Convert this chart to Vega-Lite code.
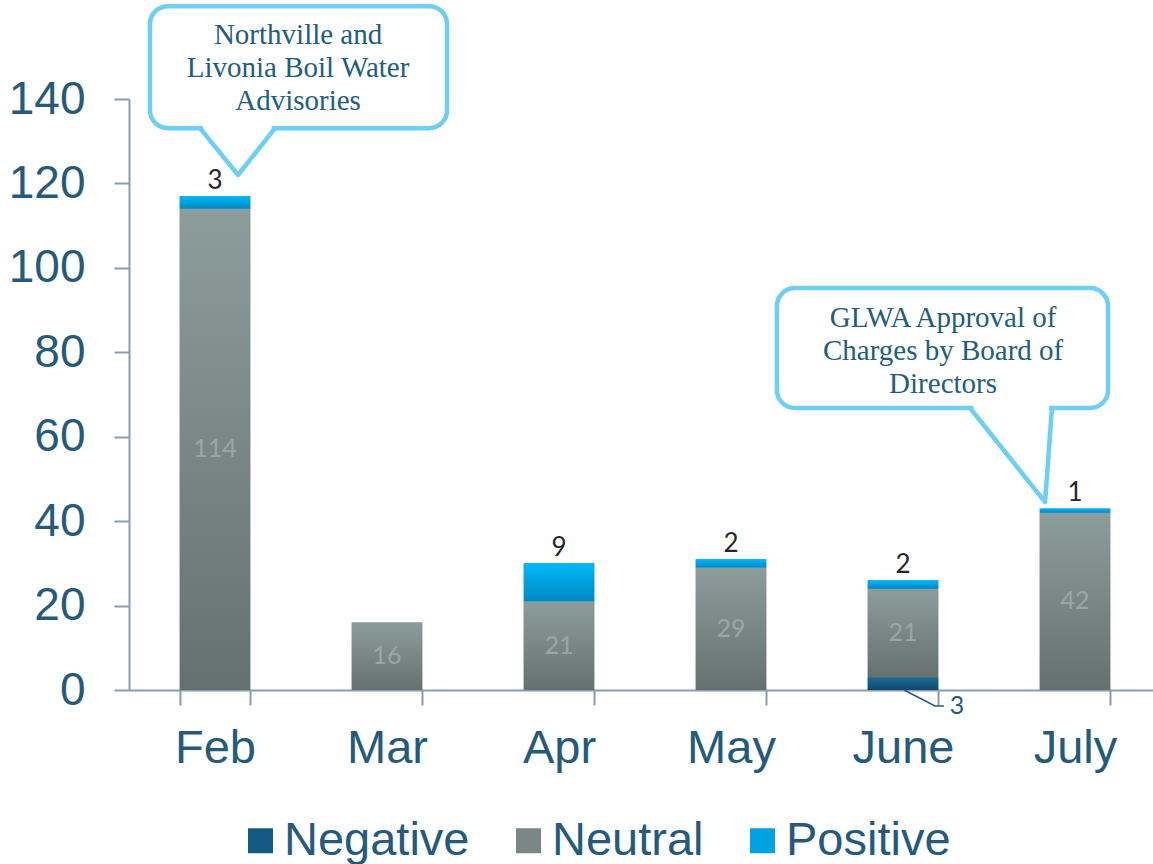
{
  "$schema": "https://vega.github.io/schema/vega-lite/v6.json",
  "width": 1032,
  "height": 591,
  "autosize": {"type": "none"},
  "padding": {"left": 129, "top": 99, "right": -8, "bottom": 174},
  "background": "white",
  "config": {"view": {"stroke": null}, "font": "Liberation Sans"},
  "datasets": {
    "counts": [
      {"month": "Feb", "sentiment": "Neutral", "count": 114},
      {"month": "Feb", "sentiment": "Positive", "count": 3},
      {"month": "Mar", "sentiment": "Neutral", "count": 16},
      {"month": "Apr", "sentiment": "Neutral", "count": 21},
      {"month": "Apr", "sentiment": "Positive", "count": 9},
      {"month": "May", "sentiment": "Neutral", "count": 29},
      {"month": "May", "sentiment": "Positive", "count": 2},
      {"month": "June", "sentiment": "Negative", "count": 3},
      {"month": "June", "sentiment": "Neutral", "count": 21},
      {"month": "June", "sentiment": "Positive", "count": 2},
      {"month": "July", "sentiment": "Neutral", "count": 42},
      {"month": "July", "sentiment": "Positive", "count": 1}
    ],
    "boxes": [
      {"id": 1, "x0": 0.122, "x1": 1.849, "y0": 133.1, "y1": 162.0},
      {"id": 2, "x0": 3.767, "x1": 5.692, "y0": 66.8, "y1": 95.2}
    ],
    "covers": [
      {"id": 1, "x": 0.43, "y": 133.1},
      {"id": 1, "x": 0.83, "y": 133.1},
      {"id": 2, "x": 4.91, "y": 66.8},
      {"id": 2, "x": 5.35, "y": 66.8}
    ],
    "pointers": [
      {"id": 1, "x": 0.413, "y": 133.1},
      {"id": 1, "x": 0.634, "y": 122.0},
      {"id": 1, "x": 0.849, "y": 133.1},
      {"id": 2, "x": 4.89, "y": 66.8},
      {"id": 2, "x": 5.326, "y": 44.5},
      {"id": 2, "x": 5.366, "y": 66.8}
    ],
    "notes": [
      {"x": 0.983, "y": 155.2, "text": "Northville and\nLivonia Boil Water\nAdvisories"},
      {"x": 4.733, "y": 88.1, "text": "GLWA Approval of\nCharges by Board of\nDirectors"}
    ],
    "leader": [
      {"x": 4.506, "y": 0},
      {"x": 4.686, "y": -3.79},
      {"x": 4.738, "y": -3.79}
    ],
    "negLabel": [
      {"x": 4.814, "y": -3.79, "text": "3"}
    ]
  },
  "layer": [
    {
      "data": {"name": "counts"},
      "transform": [
        {"stack": "count", "groupby": ["month"], "sort": [{"field": "sentiment"}], "as": ["c0", "c1"]}
      ],
      "encoding": {
        "x": {
          "field": "month", "type": "nominal",
          "sort": ["Feb", "Mar", "Apr", "May", "June", "July"],
          "scale": {"paddingInner": 0.59, "paddingOuter": 0.295},
          "axis": {
            "title": null, "labelAngle": 0, "labelFontSize": 47, "labelColor": "#245b7c",
            "labelFont": "Liberation Sans", "labelPadding": 20, "tickBand": "extent",
            "tickSize": 15, "tickWidth": 2, "tickColor": "#8b9bb0", "domainColor": "#8b9bb0",
            "domainWidth": 2
          }
        }
      },
      "layer": [
        {
          "mark": {"type": "bar"},
          "encoding": {
            "y": {
              "field": "c0", "type": "quantitative",
              "scale": {"domain": [0, 140], "nice": false},
              "axis": {
                "title": null, "values": [0, 20, 40, 60, 80, 100, 120, 140], "grid": false,
                "labelFontSize": 46, "labelColor": "#245b7c", "labelFont": "Liberation Sans",
                "labelPadding": 29, "tickSize": 15, "tickWidth": 2, "tickColor": "#8b9bb0",
                "domainColor": "#8b9bb0", "domainWidth": 2
              }
            },
            "y2": {"field": "c1"},
            "color": {
              "field": "sentiment", "type": "nominal",
              "scale": {
                "domain": ["Negative", "Neutral", "Positive"],
                "range": ["#155a83", "#7a8785", "#00a3e0"]
              },
              "legend": {
                "orient": "none", "legendX": 108, "legendY": 718, "direction": "horizontal",
                "title": null, "symbolType": "square", "symbolSize": 625, "symbolStrokeWidth": 0,
                "labelFontSize": 47, "labelColor": "#245b7c", "labelFont": "Liberation Sans",
                "labelLimit": 500, "columnPadding": 35, "labelOffset": 0, "padding": 0
              }
            }
          }
        },
        {
          "transform": [{"filter": "datum.sentiment === 'Negative'"}],
          "mark": {"type": "bar", "fill": {"gradient": "linear", "x1": 0, "y1": 0, "x2": 0, "y2": 1, "stops": [{"offset": 0, "color": "#1d6a97"}, {"offset": 1, "color": "#0e4a6c"}]}},
          "encoding": {
            "y": {"field": "c0", "type": "quantitative", "title": null},
            "y2": {"field": "c1"}
          }
        },
        {
          "transform": [{"filter": "datum.sentiment === 'Neutral'"}],
          "mark": {"type": "bar", "fill": {"gradient": "linear", "x1": 0, "y1": 0, "x2": 0, "y2": 1, "stops": [{"offset": 0, "color": "#8d9d9b"}, {"offset": 1, "color": "#65716e"}]}},
          "encoding": {
            "y": {"field": "c0", "type": "quantitative", "title": null},
            "y2": {"field": "c1"}
          }
        },
        {
          "transform": [{"filter": "datum.sentiment === 'Positive'"}],
          "mark": {"type": "bar", "fill": {"gradient": "linear", "x1": 0, "y1": 0, "x2": 0, "y2": 1, "stops": [{"offset": 0, "color": "#00b8f8"}, {"offset": 1, "color": "#0088c3"}]}},
          "encoding": {
            "y": {"field": "c0", "type": "quantitative", "title": null},
            "y2": {"field": "c1"}
          }
        },
        {
          "transform": [
            {"filter": "datum.sentiment === 'Neutral'"},
            {"calculate": "(datum.c0 + datum.c1) / 2", "as": "mid"}
          ],
          "mark": {"type": "text", "font": "Lato", "fontSize": 25, "color": "#9aa6a4", "baseline": "middle"},
          "encoding": {
            "y": {"field": "mid", "type": "quantitative", "title": null},
            "text": {"field": "count", "type": "quantitative"}
          }
        },
        {
          "transform": [{"filter": "datum.sentiment === 'Positive'"}],
          "mark": {"type": "text", "font": "Lato", "fontSize": 26, "color": "#262626", "baseline": "alphabetic", "dy": -7},
          "encoding": {
            "y": {"field": "c1", "type": "quantitative", "title": null},
            "text": {"field": "count", "type": "quantitative"}
          }
        }
      ]
    },
    {
      "encoding": {
        "x": {"type": "quantitative", "scale": {"domain": [0, 6], "nice": false, "zero": false}, "axis": null},
        "y": {"type": "quantitative", "scale": {"domain": [0, 140], "nice": false}, "title": null}
      },
      "layer": [
        {
          "data": {"name": "boxes"},
          "mark": {"type": "rect", "cornerRadius": 18, "fill": "white", "stroke": "#6dcff6", "strokeWidth": 4.5},
          "encoding": {
            "x": {"field": "x0", "type": "quantitative"},
            "x2": {"field": "x1"},
            "y": {"field": "y0", "type": "quantitative"},
            "y2": {"field": "y1"}
          }
        },
        {
          "data": {"name": "covers"},
          "mark": {"type": "line", "stroke": "white", "strokeWidth": 7},
          "encoding": {
            "x": {"field": "x", "type": "quantitative"},
            "y": {"field": "y", "type": "quantitative"},
            "detail": {"field": "id"}
          }
        },
        {
          "data": {"name": "pointers"},
          "mark": {"type": "line", "stroke": "#6dcff6", "strokeWidth": 4.5, "strokeJoin": "round", "strokeCap": "round"},
          "encoding": {
            "x": {"field": "x", "type": "quantitative"},
            "y": {"field": "y", "type": "quantitative"},
            "detail": {"field": "id"}
          }
        },
        {
          "data": {"name": "notes"},
          "mark": {"type": "text", "font": "Liberation Serif", "fontSize": 29, "color": "#215d7e", "lineBreak": "\n", "lineHeight": 33, "align": "center", "baseline": "middle"},
          "encoding": {
            "x": {"field": "x", "type": "quantitative"},
            "y": {"field": "y", "type": "quantitative"},
            "text": {"field": "text"}
          }
        },
        {
          "data": {"name": "leader"},
          "mark": {"type": "line", "stroke": "#245b7c", "strokeWidth": 1.5},
          "encoding": {
            "x": {"field": "x", "type": "quantitative"},
            "y": {"field": "y", "type": "quantitative"}
          }
        },
        {
          "data": {"name": "negLabel"},
          "mark": {"type": "text", "font": "Lato", "fontSize": 25, "color": "#245b7c", "align": "center", "baseline": "middle"},
          "encoding": {
            "x": {"field": "x", "type": "quantitative"},
            "y": {"field": "y", "type": "quantitative"},
            "text": {"field": "text"}
          }
        }
      ]
    }
  ],
  "resolve": {"scale": {"x": "independent"}}
}
